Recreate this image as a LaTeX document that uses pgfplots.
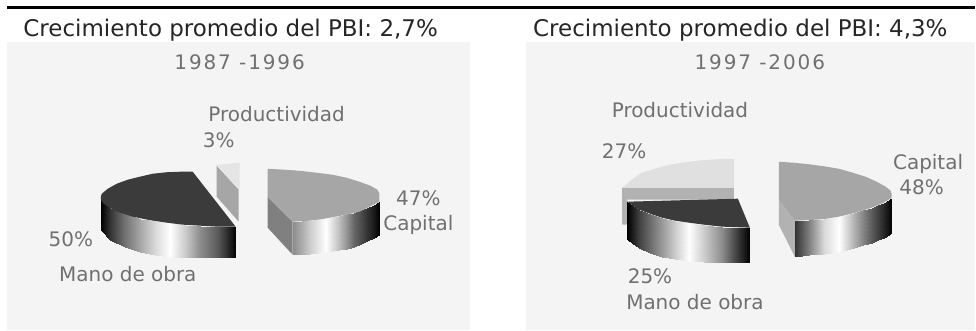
\documentclass[border=0pt]{standalone}
\usepackage{pgfplots}
\pgfplotsset{compat=1.18}
\usepackage{fontspec}
\setmainfont{DejaVu Sans}
\definecolor{panel}{HTML}{F4F4F4}
\definecolor{lab}{HTML}{707070}
\newcommand{\tit}[3]{\node[anchor=base,inner sep=0pt,text=black!85] at (axis cs:#1,#2) {\fontsize{23}{24}\selectfont #3};}
\newcommand{\lbl}[3]{\node[anchor=base,inner sep=0pt,text=lab] at (axis cs:#1,#2) {\fontsize{20}{22}\selectfont #3};}
\newcommand{\yrs}[3]{\node[anchor=base,inner sep=0pt,text=lab] at (axis cs:#1,#2) {\fontsize{20}{22}\selectfont\addfontfeature{LetterSpace=9.5} #3};}
\begin{document}
\begin{tikzpicture}
\begin{axis}[
  width=976pt,height=331pt,scale only axis,
  xmin=0,xmax=976,ymin=0,ymax=331,y dir=reverse,
  axis lines=none,clip=false,
  colormap={bw}{gray(0cm)=(0); gray(1cm)=(1)},
  point meta min=0,point meta max=1,
]
% page background, top rule and panels
\addplot[fill=white,draw=none,no marks] coordinates {(0,0) (976,0) (976,331) (0,331)} --cycle;
\addplot[draw=black,line width=3pt,no marks] coordinates {(7,8) (976,8)};
\addplot[fill=panel,draw=none,no marks] coordinates {(7,42) (471,42) (471,331) (7,331)} --cycle;
\addplot[fill=panel,draw=none,no marks] coordinates {(527,42) (976,42) (976,331) (527,331)} --cycle;

% ---- left pie
% Productividad 3%
\addplot[fill=gray!70!white,draw=none,no marks] coordinates {(217,166) (217,197) (239,222) (239,190)} --cycle;
\addplot[fill=black!10,draw=none,no marks] coordinates {(217,165) (240,163) (240,190)} --cycle;
% Mano de obra 50%
\addplot[surf,shader=interp,mesh/rows=11,point meta=explicit,draw=none] table[meta=m]{
x y m
101 200 0
101 230 0
110 208 .2
110 240 .2
125 213 .45
125 247 .45
140 219 .65
140 252 .65
155 221 .85
155 255 .85
170 223 1
170 257 1
185 225 .8
185 258 .8
200 226 .55
200 258 .55
218 227 .35
218 258 .35
230 227 .12
230 258 .12
236 227 0
236 258 0
};
\addplot[fill=black!77,draw=none,no marks] coordinates {(193,172) (180,172) (167,172.5) (153,174) (140,177) (128,180) (117,184) (108,189) (102,194) (101,197) (101,200) (104,204) (110,208) (120,213) (133,217) (150,220.5) (167,223) (183,225) (200,226) (218,227) (236,227)} --cycle;
% Capital 47%
\addplot[fill=black!50,draw=none,no marks] coordinates {(268,197) (293,222) (293,255) (268,228)} --cycle;
\addplot[surf,shader=interp,mesh/rows=12,point meta=explicit,draw=none] table[meta=m]{
x y m
293 222 .55
293 255 .55
302 221.5 .68
302 254.5 .68
310 221 .8
310 254 .8
318 219.5 .9
318 253 .9
327 218 1
327 252 1
340 216 .75
340 250.5 .75
348 214.5 .57
348 249 .57
355 213 .4
355 247 .4
362 210.5 .3
362 244 .3
368 208 .2
368 241 .2
375 205 .1
375 238 .1
380 202 0
380 235 0
};
\addplot[fill=black!35,draw=none,no marks] coordinates {(268,169) (285,170) (300,171) (317,173) (333,175) (347,178) (360,182) (371,186) (378,190) (380,194) (380,202) (372,206) (360,212) (347,215) (333,217.5) (322,219.5) (310,221) (293,222) (268,197)} --cycle;

% ---- right pie
% Productividad 27%
\addplot[fill=black!30,draw=none,no marks] coordinates {(623,188) (735,188) (735,200) (628,200) (628,225) (623,225)} --cycle;
\addplot[fill=black!12,draw=none,no marks] coordinates {(735,159) (719,159.5) (703,160.5) (686,162.5) (670,165) (656,169) (643,173) (634,179) (627,185) (623,188) (735,188)} --cycle;
% Mano de obra 25%
\addplot[surf,shader=interp,mesh/rows=11,point meta=explicit,draw=none] table[meta=m]{
x y m
628 202 0
628 239 0
634 206 .12
634 244 .12
640 210 .25
640 248 .25
651 214 .42
651 253 .42
663 218 .6
663 257 .6
676 221 .8
676 259 .8
690 223 1
690 261 1
705 225 .8
705 262 .8
723 227 .55
723 263 .55
740 228 .2
740 263 .2
751 228 0
751 263 0
};
\addplot[fill=black!77,draw=none,no marks] coordinates {(628,202) (739,199) (751,228) (723,227) (705,225) (690,223) (676,221) (663,218) (651,214) (640,210) (634,206)} --cycle;
% Capital 48%
\addplot[fill=black!30,draw=none,no marks] coordinates {(780,200) (796,221) (796,257) (780,225)} --cycle;
\addplot[surf,shader=interp,mesh/rows=10,point meta=explicit,draw=none] table[meta=m]{
x y m
796 221 .2
796 257 .2
810 220.5 .5
810 255 .5
825 219 .85
825 254 .85
840 217 1
840 252 1
855 213 .7
855 248 .7
864 210.5 .52
864 245.5 .52
873 208 .35
873 243 .35
879 205.5 .25
879 240.5 .25
885 203 .15
885 238 .15
893 198 0
893 233 0
};
\addplot[fill=black!35,draw=none,no marks] coordinates {(780,162) (795,163) (810,164.5) (825,166.5) (840,169) (854,173) (867,177) (878,182) (887,187) (892,191) (893,194) (893,198) (885,203) (873,208) (857,213) (840,217) (828,219) (817,220) (796,221) (780,200)} --cycle;

% ---- text
\tit{231}{37}{Crecimiento promedio del PBI: 2,7\%}
\tit{741.5}{37}{Crecimiento promedio del PBI: 4,3\%}
\yrs{240}{70}{1987 -1996}
\yrs{761}{70}{1997 -2006}
\lbl{277}{122}{Productividad}
\lbl{219}{148}{3\%}
\lbl{419}{206}{47\%}
\lbl{419}{231}{Capital}
\lbl{71}{247}{50\%}
\lbl{128}{282}{Mano de obra}
\lbl{681}{118}{Productividad}
\lbl{625}{159}{27\%}
\lbl{929.5}{170}{Capital}
\lbl{923}{195}{48\%}
\lbl{651}{284}{25\%}
\lbl{696}{310}{Mano de obra}
\end{axis}
\end{tikzpicture}
\end{document}
